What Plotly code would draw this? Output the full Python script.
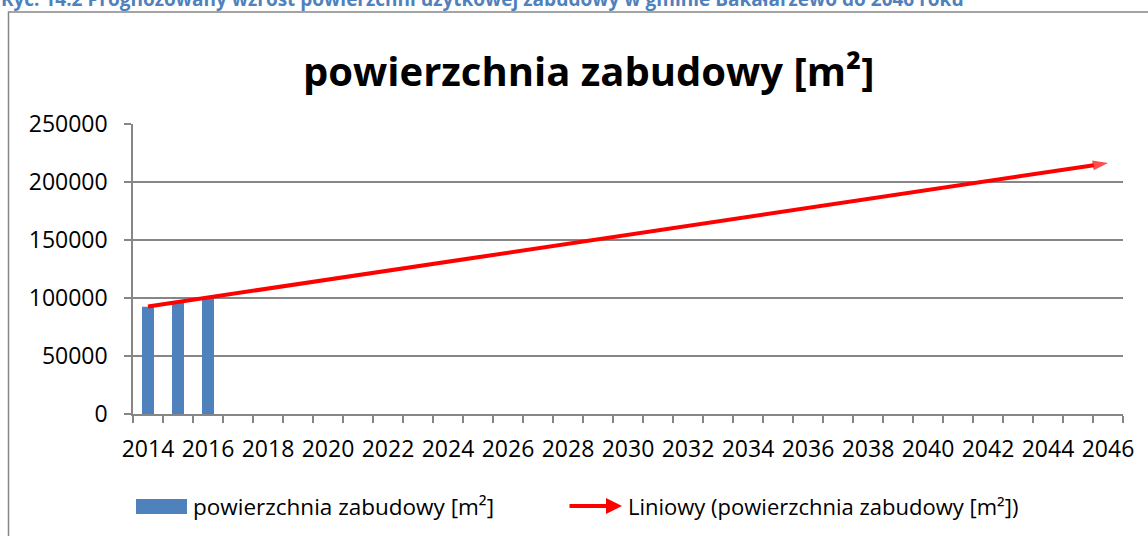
import plotly.graph_objects as go

# Observed built-up area per year (m²)
years = [2014, 2015, 2016]
area = [92500, 97000, 100200]

# Linear trend (Excel "Liniowy"), from first year to the forecast horizon
trend_years = [2014, 2046]
trend_values = [92700, 216300]

# Axis labels
x_tick_years = list(range(2014, 2047, 2))
y_ticks = [0, 50000, 100000, 150000, 200000, 250000]

series_name = "powierzchnia zabudowy [m²]"
trend_name = "Liniowy (powierzchnia zabudowy [m²])"
chart_title = "powierzchnia zabudowy [m²]"
caption = "Ryc. 14.2 Prognozowany wzrost powierzchni użytkowej zabudowy w gminie Bakałarzewo do 2046 roku"

BLUE = "#4F81BD"
RED = "#FF0000"
GRID = "#868686"
FONT = "Open Sans"

# Plot area in pixels (page is 1148 x 536)
WIDTH, HEIGHT = 1148, 536
L, R, T, B = 133, 1123, 124, 414
PW, PH = R - L, B - T


def fx(px):
    return (px - L) / PW


def fy(py):
    return (B - py) / PH


fig = go.Figure()

fig.add_trace(go.Bar(
    x=years, y=area, name=series_name,
    marker=dict(color=BLUE, line=dict(width=0)),
    width=0.4, showlegend=False,
))

fig.add_trace(go.Scatter(
    x=trend_years, y=trend_values, name=trend_name,
    mode="lines+markers",
    line=dict(color=RED, width=4),
    marker=dict(symbol=["circle", "arrow"], size=[0, 16],
                angleref="previous", color=RED, line=dict(width=0)),
    showlegend=False,
))

# Outer chart frame
fig.add_shape(type="rect", xref="paper", yref="paper",
              x0=fx(8.5), x1=fx(1170), y0=fy(560), y1=fy(12),
              line=dict(color=GRID, width=1.5), layer="below")

# Caption above the frame
fig.add_annotation(xref="paper", yref="paper", x=fx(-1), y=fy(-1),
                   xanchor="left", yanchor="middle", showarrow=False,
                   text=caption,
                   font=dict(family=FONT, size=19, color=BLUE, weight="bold"))

# Chart title
fig.add_annotation(xref="paper", yref="paper", x=fx(588), y=fy(70),
                   xanchor="center", yanchor="middle", showarrow=False,
                   text=chart_title,
                   font=dict(family=FONT, size=40, color="black", weight="bold"))

# Legend: bar swatch + label
fig.add_shape(type="rect", xref="paper", yref="paper",
              x0=fx(136), x1=fx(187), y0=fy(514), y1=fy(499),
              fillcolor=BLUE, line=dict(width=0))
fig.add_annotation(xref="paper", yref="paper", x=fx(191), y=fy(506),
                   xanchor="left", yanchor="middle", showarrow=False,
                   text=series_name,
                   font=dict(family=FONT, size=22.5, color="black"))

# Legend: trend arrow + label
fig.add_annotation(xref="paper", yref="paper", x=fx(622), y=fy(506),
                   ax=-54, ay=0, showarrow=True, text="",
                   arrowhead=2, arrowwidth=4, arrowsize=0.8, arrowcolor=RED)
fig.add_annotation(xref="paper", yref="paper", x=fx(626), y=fy(506),
                   xanchor="left", yanchor="middle", showarrow=False,
                   text=trend_name,
                   font=dict(family=FONT, size=22, color="black"))

fig.update_xaxes(
    range=[2013.5, 2046.5],
    tickmode="array", tickvals=x_tick_years,
    ticktext=[str(y) for y in x_tick_years],
    ticks="", showgrid=False, zeroline=False,
    showline=True, linecolor=GRID, linewidth=1.5,
    tickfont=dict(family=FONT, size=23, color="black"),
    ticklabelstandoff=14,
    minor=dict(tickmode="linear", tick0=2013.5, dtick=1,
               ticks="outside", ticklen=7, tickcolor=GRID, tickwidth=1.5,
               showgrid=False),
)

fig.update_yaxes(
    range=[0, 250000],
    tickmode="array", tickvals=y_ticks, tickformat="d",
    ticks="outside", ticklen=7, tickcolor=GRID, tickwidth=1.5,
    showgrid=True, gridcolor=GRID, gridwidth=1.5,
    zeroline=False,
    showline=True, linecolor=GRID, linewidth=1.5,
    tickfont=dict(family=FONT, size=23, color="black"),
    ticklabelstandoff=12,
)

fig.update_layout(
    width=WIDTH, height=HEIGHT,
    margin=dict(l=L, r=WIDTH - R, t=T, b=HEIGHT - B, pad=0),
    paper_bgcolor="white", plot_bgcolor="white",
    font=dict(family=FONT, color="black"),
    bargap=0.6,
)

fig.write_html("out.html")
